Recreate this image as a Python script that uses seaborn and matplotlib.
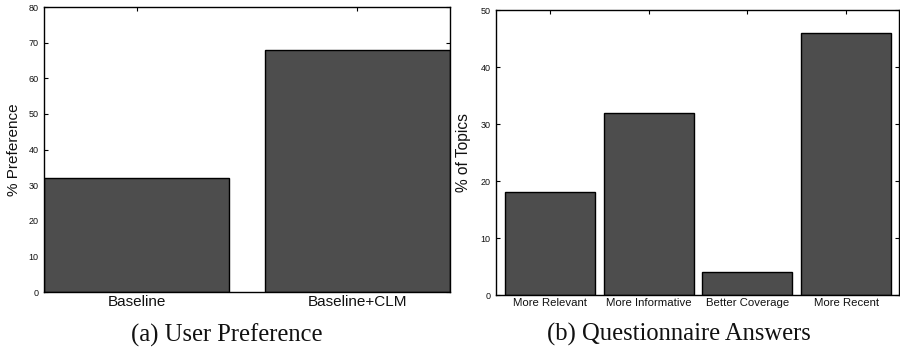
import numpy as np
import pandas as pd
import seaborn as sns
import matplotlib.pyplot as plt

# (a) user preference
pref_systems = ['Baseline', 'Baseline+CLM']
pref_values = [32, 68]

# (b) questionnaire answers
answer_labels = ['More Relevant', 'More Informative', 'Better Coverage', 'More Recent']
answer_values = [18, 32, 4, 46]

sns.set_theme(style='white')
plt.rcParams['font.family'] = ['Liberation Sans', 'DejaVu Sans']
plt.rcParams['text.color'] = '#111111'
plt.rcParams['axes.labelcolor'] = '#111111'
plt.rcParams['xtick.color'] = '#111111'
plt.rcParams['ytick.color'] = '#111111'

fig = plt.figure(figsize=(9, 3.51), dpi=100)
ax1 = fig.add_axes([0.049, 0.168, 0.451, 0.812])
ax2 = fig.add_axes([0.551, 0.1595, 0.448, 0.812])

bar_color = '#4d4d4d'


def style_axis(ax, ymax, xlim, xfs):
    ax.set_ylim(0, ymax)
    ax.set_xlim(*xlim)
    ax.set_yticks(np.arange(0, ymax + 1, 10))
    ax.tick_params(axis='y', direction='in', length=3, labelsize=6.5, pad=4,
                   right=True, left=True, width=0.8, color='black')
    ax.tick_params(axis='x', direction='in', length=3, labelsize=xfs, pad=2,
                   top=True, bottom=False, width=0.8, color='black')
    for s in ax.spines.values():
        s.set_color('black')
        s.set_linewidth(1.0)
    ax.set_xlabel('')


df1 = pd.DataFrame({'system': pref_systems, 'value': pref_values})
sns.barplot(data=df1, x='system', y='value', color=bar_color, edgecolor='black',
            linewidth=1.0, width=0.837, saturation=1, ax=ax1)
style_axis(ax1, 80, (-0.42, 1.42), 11)
ax1.set_ylabel('% Preference', fontsize=11, labelpad=5)

df2 = pd.DataFrame({'answer': answer_labels, 'value': answer_values})
sns.barplot(data=df2, x='answer', y='value', color=bar_color, edgecolor='black',
            linewidth=1.0, width=0.91, saturation=1, ax=ax2)
style_axis(ax2, 50, (-0.545, 3.535), 8.2)
ax2.set_ylabel('% of Topics', fontsize=11.2, labelpad=7)

fig.text(0.252, 0.046, '(a) User Preference', ha='center', va='center',
         fontsize=17.7, family='Liberation Serif')
fig.text(0.754, 0.046, '(b) Questionnaire Answers', ha='center', va='center',
         fontsize=17.7, family='Liberation Serif')

fig.savefig('out.png', dpi=100, facecolor='white')
